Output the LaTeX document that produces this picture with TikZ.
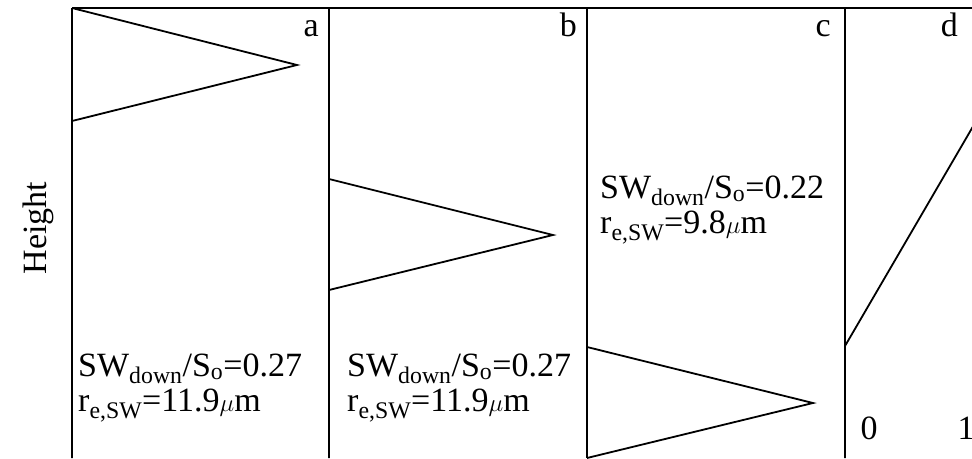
\documentclass[tikz,border=0pt]{standalone}
\usepackage{fontspec}
\setmainfont{Liberation Serif}
\usepackage{tikz}
\usetikzlibrary{positioning}

\begin{document}
\begin{tikzpicture}[x=1pt,y=-1pt,
  font=\fontsize{34}{35}\selectfont,
  frame/.style={line width=1.2pt},
  prof/.style={line width=1.8pt,line join=miter},
  lbl/.style={anchor=base east,inner sep=0pt},
  txt/.style={anchor=base west,inner sep=0pt,align=left}]
\useasboundingbox (0,0) rectangle (972,458);
% panel frames
\draw[frame] (72,8) -- (972,8);
\foreach \px in {72,329,587,845}
  \draw[frame] (\px,8) -- (\px,458);
% profiles
\draw[prof] (72,8) -- (297,65) -- (72,121) -- (72,458);
\draw[prof] (329,8) -- (329,179) -- (553,235) -- (329,290) -- (329,458);
\draw[prof] (587,8) -- (587,347) -- (813,403) -- (587,458);
\draw[prof] (845,458) -- (845,346) -- (982,111);
% panel letters
\node[lbl] (lbA) at (319,36) {a};
\node[lbl] (lbB) at (577,36) {b};
\node[lbl] (lbC) at (831,36) {c};
\node[lbl] (lbD) at (958,36) {d};
% axis
\node[rotate=90] (hgt) at (38,228) {Height};
\node[anchor=base,inner sep=0pt] (tk0) at (869,439) {0};
\node[anchor=base,inner sep=0pt] (tk1) at (966,439) {1};
% annotations (base = last line)
\node[txt] (txA) at (78,411) {SW\textsubscript{down}/S\textsubscript{o}=0.27\\r\textsubscript{e,SW}=11.9$\mu$m};
\node[txt] (txB) at (347,411) {SW\textsubscript{down}/S\textsubscript{o}=0.27\\r\textsubscript{e,SW}=11.9$\mu$m};
\node[txt] (txC) at (600,233) {SW\textsubscript{down}/S\textsubscript{o}=0.22\\r\textsubscript{e,SW}=9.8$\mu$m};
\end{tikzpicture}
\end{document}
